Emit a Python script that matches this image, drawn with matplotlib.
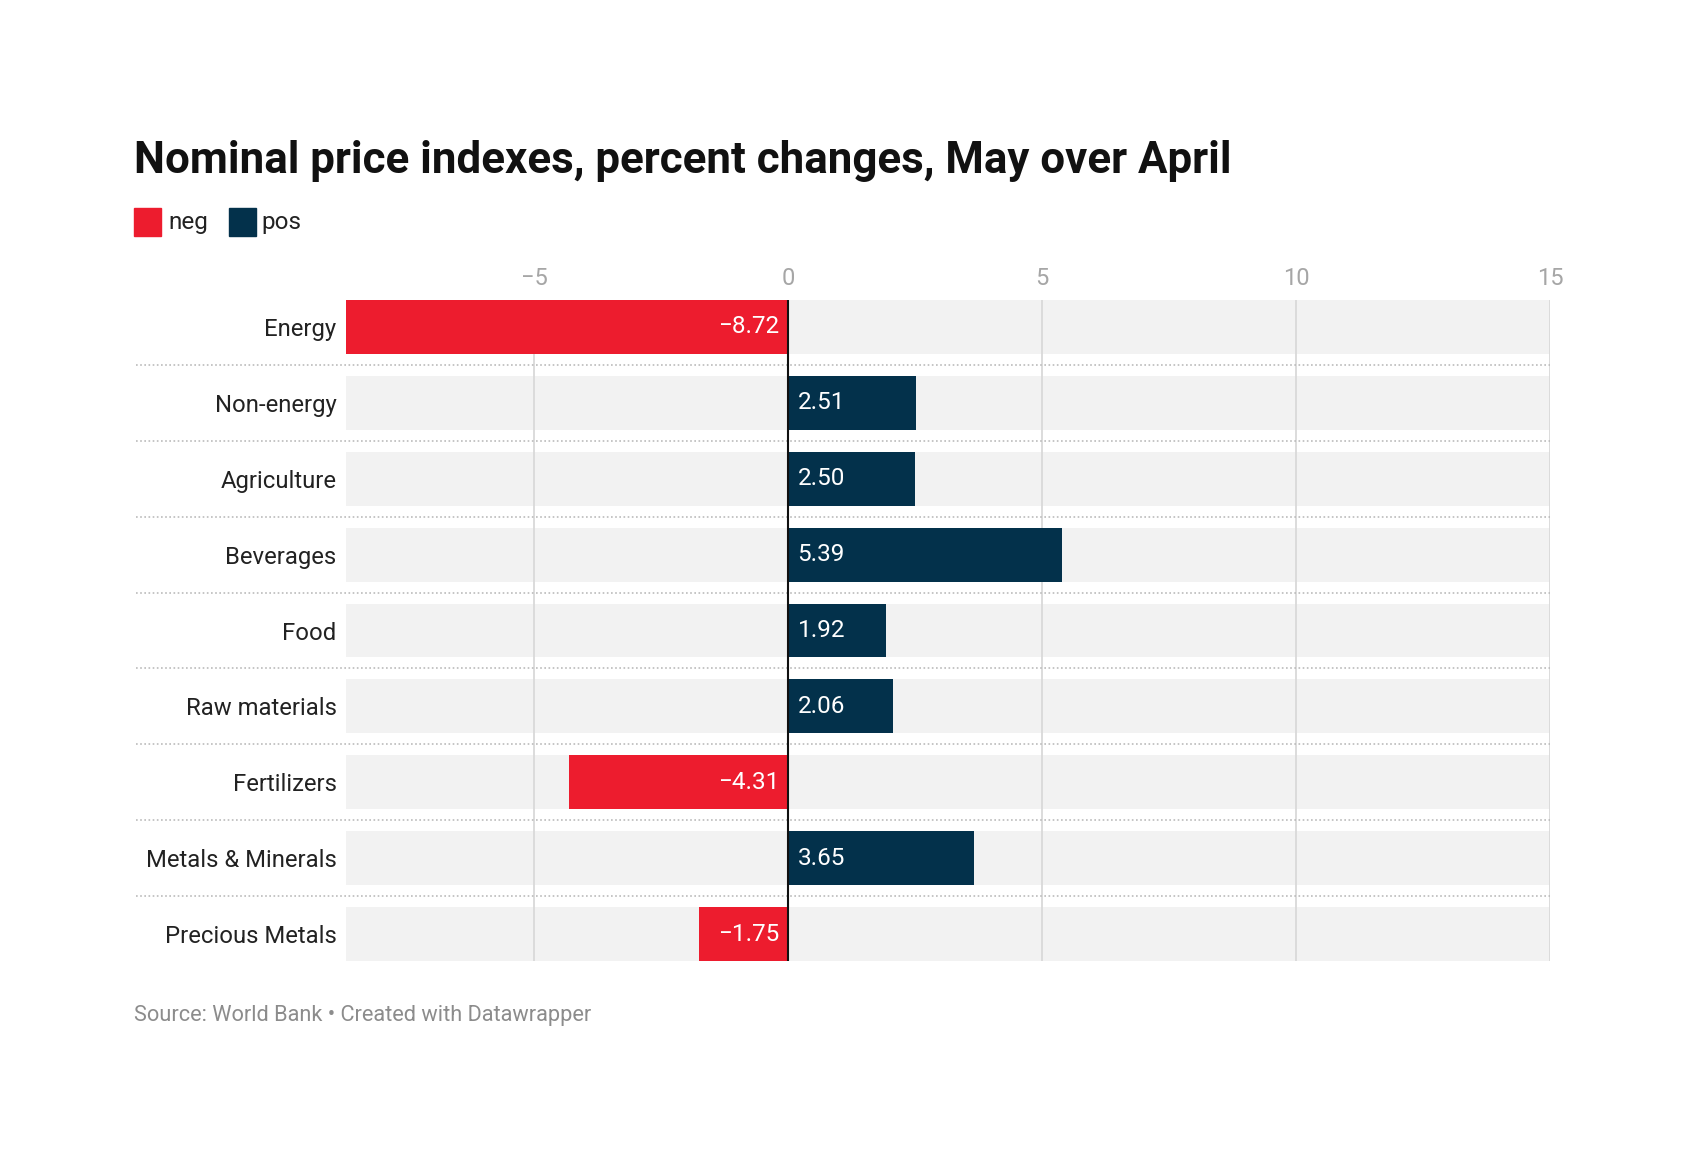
import matplotlib.pyplot as plt
import numpy as np

# data
categories = ['Energy', 'Non-energy', 'Agriculture', 'Beverages', 'Food',
              'Raw materials', 'Fertilizers', 'Metals & Minerals', 'Precious Metals']
values = [-8.72, 2.51, 2.50, 5.39, 1.92, 2.06, -4.31, 3.65, -1.75]
ticks = [-5, 0, 5, 10, 15]

RED = '#ed1c2e'
NAVY = '#03314b'

plt.rcParams['font.family'] = ['Roboto', 'DejaVu Sans']

fig = plt.figure(figsize=(16.88, 11.62), dpi=100)
ax = fig.add_axes([0.2047, 0.1730, 0.9183 - 0.2047, 0.7418 - 0.1730])

y = np.arange(len(categories))
xmin, xmax = -8.72, 15
bh = 0.71

# grey background bars
ax.barh(y, xmax - xmin, left=xmin, height=bh, color='#f2f2f2', zorder=0)

# grid lines
for t in ticks:
    if t != 0:
        ax.axvline(t, color='#d9d9d9', lw=1.3, zorder=1)

colors = [RED if v < 0 else NAVY for v in values]
ax.barh(y, values, height=bh, color=colors, zorder=2)
ax.axvline(0, color='#111111', lw=1.5, zorder=3)

# value labels inside bars, at zero side
for yi, v in zip(y, values):
    txt = f'{v:.2f}'.replace('-', '\u2212')
    if v < 0:
        ax.text(-0.18, yi, txt, ha='right', va='center', color='white', fontsize=17.5, zorder=4)
    else:
        ax.text(0.18, yi, txt, ha='left', va='center', color='white', fontsize=17.5, zorder=4)

# dotted row separators
for yi in y[:-1]:
    ax.plot([-0.174, 1.0], [yi + 0.5, yi + 0.5], transform=ax.get_yaxis_transform(),
            color='#bbbbbb', lw=1.2, ls=(0, (1, 1.5)), clip_on=False, zorder=1)

ax.set_xlim(xmin, xmax)
ax.set_ylim(len(categories) - 1 + bh / 2, -bh / 2)
ax.set_yticks(y)
ax.set_yticklabels(categories, fontsize=17.2, color='#222222')
ax.set_xticks(ticks)
ax.set_xticklabels([str(t).replace('-', '\u2212') for t in ticks], fontsize=17, color='#a6a6a6')
ax.xaxis.tick_top()
ax.tick_params(axis='both', length=0)
ax.tick_params(axis='x', pad=7)
ax.tick_params(axis='y', pad=6.5)
for s in ax.spines.values():
    s.set_visible(False)

# title
fig.text(134 / 1688, 1 - 161 / 1162, 'Nominal price indexes, percent changes, May over April',
         fontsize=31.6, fontweight='bold', color='#111111', va='center', ha='left')

# legend
fig.patches.append(plt.Rectangle((134 / 1688, 1 - 236 / 1162), 27 / 1688, 28 / 1162,
                                 color=RED, transform=fig.transFigure, figure=fig))
fig.text(168 / 1688, 1 - 223 / 1162, 'neg', fontsize=17.5, color='#222222', va='center')
fig.patches.append(plt.Rectangle((229 / 1688, 1 - 236 / 1162), 27 / 1688, 28 / 1162,
                                 color=NAVY, transform=fig.transFigure, figure=fig))
fig.text(261 / 1688, 1 - 223 / 1162, 'pos', fontsize=17.5, color='#222222', va='center')

# source
fig.text(134 / 1688, 1 - 1016 / 1162, 'Source: World Bank \u2022 Created with Datawrapper',
         fontsize=15.7, color='#8c8c8c', va='center', ha='left')

fig.savefig('out.png', dpi=100)
